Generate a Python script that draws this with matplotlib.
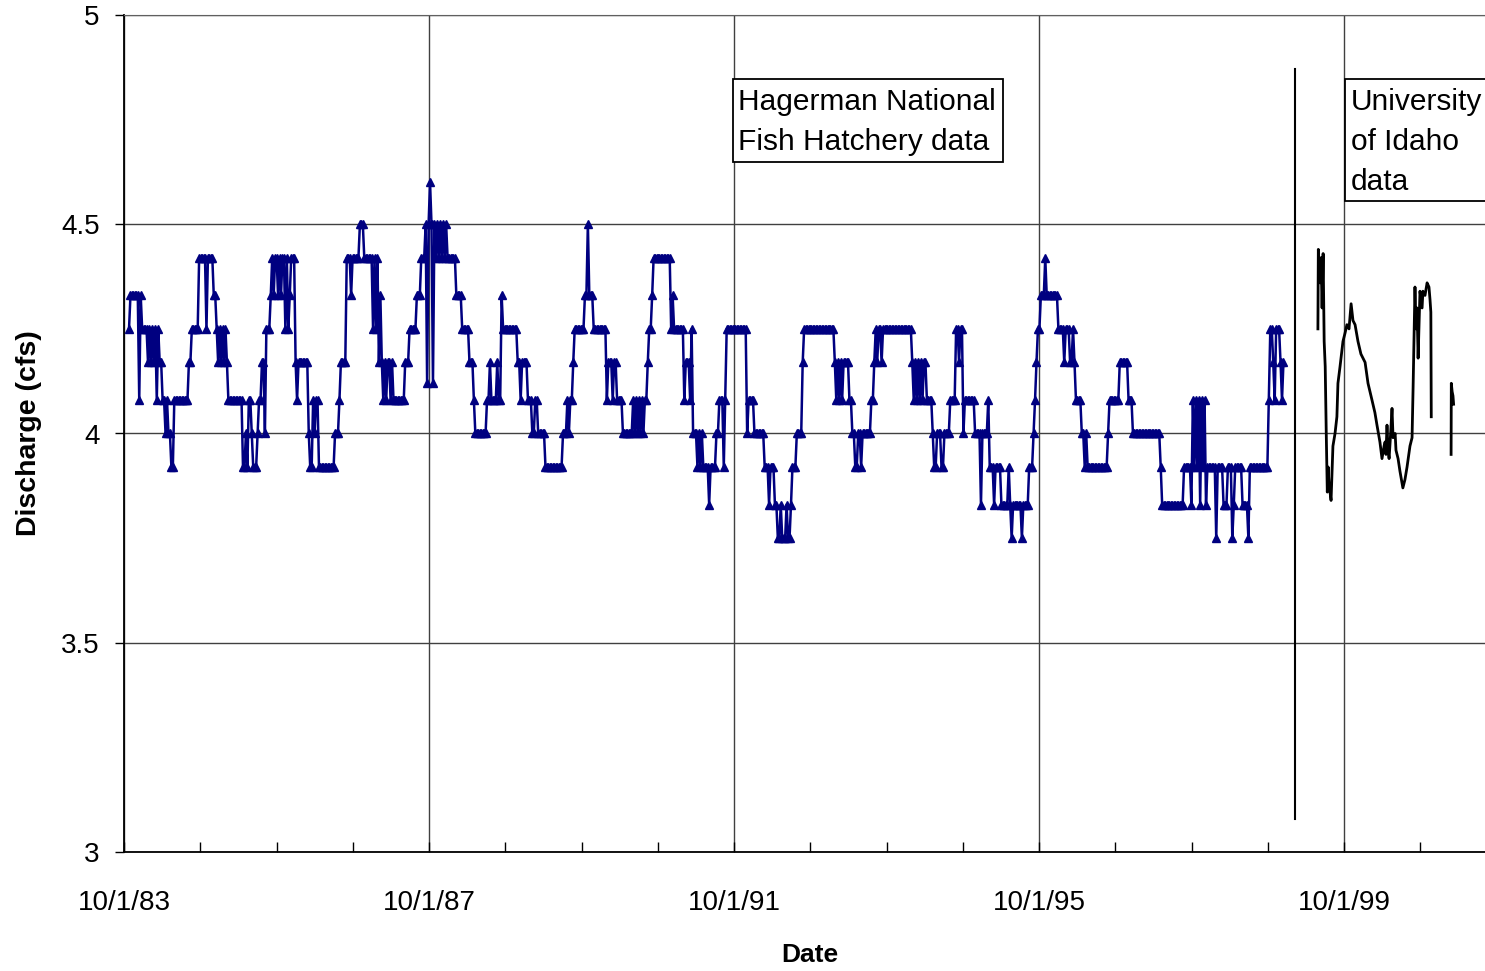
import numpy as np
import pandas as pd
import matplotlib
matplotlib.use('Agg')
import matplotlib.pyplot as plt
import matplotlib.dates as mdates
from matplotlib.patches import Rectangle

plt.rcParams['font.family'] = ['Liberation Sans', 'DejaVu Sans']

# Hagerman National Fish Hatchery, weekly readings stored as (cfs, weeks held)
hnfh_start = '1983-10-25'
hnfh_runs = [
    (4.25, 1), (4.33, 6), (4.08, 1), (4.33, 1), (4.25, 4),
    (4.17, 1), (4.25, 1), (4.17, 1), (4.25, 1), (4.17, 1), (4.25, 1), (4.08, 1), (4.25, 1), (4.17, 2),
    (4.08, 2), (4.0, 1), (4.08, 1), (4.0, 2), (3.92, 2),
    (4.08, 10), (4.17, 2), (4.25, 5),
    (4.42, 5), (4.25, 1), (4.42, 4), (4.33, 2),
    (4.25, 1), (4.17, 1), (4.25, 1), (4.17, 1), (4.25, 1), (4.17, 1), (4.25, 1), (4.17, 1),
    (4.08, 10),
    (3.92, 2), (4.0, 1), (3.92, 1), (4.08, 2), (4.0, 1), (3.92, 3), (4.0, 1),
    (4.08, 2), (4.17, 2), (4.0, 1), (4.25, 3),
    (4.33, 1), (4.42, 1), (4.33, 1), (4.42, 2), (4.33, 1), (4.42, 1), (4.33, 1), (4.42, 2),
    (4.25, 1), (4.42, 1), (4.25, 1), (4.33, 1), (4.42, 3),
    (4.17, 1), (4.08, 1), (4.17, 7), (4.0, 1), (3.92, 2),
    (4.08, 1), (4.0, 1), (4.08, 2),
    (3.92, 11), (4.0, 3), (4.08, 1), (4.17, 4),
    (4.42, 3), (4.33, 1), (4.42, 5), (4.5, 3),
    (4.42, 6), (4.25, 1), (4.42, 1), (4.25, 1), (4.42, 1),
    (4.17, 1), (4.33, 1), (4.17, 1), (4.08, 1),
    (4.17, 1), (4.08, 1), (4.17, 2), (4.08, 1), (4.17, 1), (4.08, 8),
    (4.17, 3), (4.25, 5), (4.33, 3), (4.42, 3),
    (4.5, 1), (4.12, 1), (4.5, 1), (4.6, 1), (4.5, 1), (4.12, 1), (4.5, 1), (4.42, 1),
    (4.5, 1), (4.42, 1), (4.5, 1), (4.42, 1), (4.5, 1), (4.42, 1), (4.5, 1),
    (4.42, 6), (4.33, 4), (4.25, 5), (4.17, 3), (4.08, 1), (4.0, 8),
    (4.08, 2), (4.17, 1), (4.08, 4), (4.17, 1), (4.08, 2), (4.33, 1),
    (4.25, 10), (4.17, 2), (4.08, 1), (4.17, 4),
    (4.08, 3), (4.0, 2), (4.08, 2), (4.0, 5), (3.92, 12),
    (4.0, 3), (4.08, 1), (4.0, 1), (4.08, 2), (4.17, 1),
    (4.25, 7), (4.33, 2), (4.5, 1), (4.33, 3), (4.25, 9),
    (4.08, 1), (4.17, 3), (4.08, 1), (4.17, 2), (4.08, 4), (4.0, 7),
    (4.08, 1), (4.0, 1), (4.08, 1), (4.0, 1), (4.08, 1), (4.0, 1), (4.08, 1), (4.0, 1), (4.08, 2),
    (4.17, 1), (4.25, 2), (4.33, 1), (4.42, 12),
    (4.25, 1), (4.33, 1), (4.25, 7),
    (4.08, 1), (4.17, 3), (4.08, 1), (4.25, 1), (4.0, 3),
    (3.92, 1), (4.0, 1), (3.92, 1), (4.0, 1), (3.92, 4), (3.83, 1), (3.92, 4), (4.0, 2),
    (4.08, 3), (3.92, 1), (4.08, 1),
    (4.25, 14), (4.0, 1), (4.08, 4), (4.0, 7),
    (3.92, 3), (3.83, 1), (3.92, 3),
    (3.83, 2), (3.75, 2), (3.83, 1), (3.75, 3), (3.83, 1), (3.75, 2), (3.83, 1),
    (3.92, 3), (4.0, 4), (4.17, 1), (4.25, 21),
    (4.17, 1), (4.08, 1), (4.17, 1), (4.08, 1), (4.17, 1), (4.08, 1), (4.17, 4), (4.08, 2),
    (4.0, 2), (3.92, 2), (4.0, 2), (3.92, 1), (4.0, 6), (4.08, 2),
    (4.17, 1), (4.25, 1), (4.17, 1), (4.25, 2), (4.17, 1), (4.25, 20),
    (4.17, 1), (4.08, 1), (4.17, 1), (4.08, 1), (4.17, 1), (4.08, 1), (4.17, 1), (4.08, 1),
    (4.17, 2), (4.08, 4),
    (4.0, 1), (3.92, 2), (4.0, 3), (3.92, 2), (4.0, 4),
    (4.08, 4), (4.25, 2), (4.17, 1), (4.25, 2), (4.0, 1), (4.08, 7),
    (4.0, 4), (3.83, 1), (4.0, 4), (4.08, 1),
    (3.92, 3), (3.83, 1), (3.92, 4),
    (3.83, 5), (3.92, 1), (3.83, 1), (3.75, 1), (3.83, 6), (3.75, 1), (3.83, 4),
    (3.92, 3), (4.0, 1), (4.08, 1), (4.17, 1), (4.25, 2),
    (4.33, 3), (4.42, 1), (4.33, 8),
    (4.25, 4), (4.17, 1), (4.25, 3), (4.17, 2), (4.25, 1), (4.17, 1),
    (4.08, 4), (4.0, 2), (3.92, 1), (4.0, 1), (3.92, 14), (4.0, 1),
    (4.08, 7), (4.17, 6), (4.08, 3), (4.0, 19), (3.92, 1), (3.83, 15),
    (3.92, 5), (3.83, 1), (4.08, 1), (3.92, 1), (4.08, 1), (3.92, 1), (4.08, 1), (3.83, 1),
    (4.08, 1), (3.92, 1), (4.08, 1), (3.83, 1),
    (3.92, 6), (3.75, 1), (3.92, 4), (3.83, 3), (3.92, 3), (3.75, 1), (3.83, 1), (3.92, 5),
    (3.83, 4), (3.75, 1), (3.92, 13),
    (4.08, 1), (4.25, 2), (4.17, 1), (4.08, 1), (4.25, 3), (4.17, 1), (4.08, 1), (4.17, 1),
]

# University of Idaho record
ui_dates = ['1999-05-29', '1999-05-31', '1999-06-08', '1999-06-13', '1999-06-18', '1999-06-23',
            '1999-06-28', '1999-07-03', '1999-07-08', '1999-07-13', '1999-07-17', '1999-07-21',
            '1999-07-31', '1999-08-09', '1999-08-19', '1999-08-28', '1999-09-02', '1999-09-12',
            '1999-09-26', '1999-10-06', '1999-10-15', '1999-10-25', '1999-11-04', '1999-11-13',
            '1999-11-23', '1999-12-07', '1999-12-21', '2000-01-10', '2000-01-24', '2000-02-12',
            '2000-02-26', '2000-03-07', '2000-03-21', '2000-03-31', '2000-04-10', '2000-04-15',
            '2000-04-19', '2000-04-24', '2000-04-29', '2000-05-04', '2000-05-09', '2000-05-18',
            '2000-05-23', '2000-06-02', '2000-06-06', '2000-06-16', '2000-06-25', '2000-07-09',
            '2000-07-19', '2000-07-29', '2000-08-12', '2000-08-22', '2000-08-27', '2000-09-05',
            '2000-09-10', '2000-09-15', '2000-09-20', '2000-09-25', '2000-09-29', '2000-10-09',
            '2000-10-13', '2000-10-23', '2000-11-02', '2000-11-11', '2000-11-16', '2000-11-20',
            '2000-11-22', '2001-01-10', '2001-02-25', '2001-02-26', '2001-03-02', '2001-03-06',
            '2001-03-09']
ui_cfs = [4.25, 4.44, 4.36, 4.42, 4.30, 4.43, 4.22, 4.16, 4.00, 3.86, 3.92, 3.88,
          3.84, 3.97, 4.00, 4.04, 4.12, 4.16, 4.22, 4.24, 4.26, 4.25, 4.31, 4.27,
          4.26, 4.22, 4.19, 4.17, 4.12, 4.08, 4.05, 4.02, 3.98, 3.94, 3.97, 3.98,
          3.95, 4.02, 3.96, 3.94, 3.98, 4.06, 3.99, 4.00, 3.96, 3.94, 3.91, 3.87,
          3.89, 3.92, 3.97, 3.99, 4.11, 4.35, 4.25, 4.30, 4.18, 4.27, 4.34, 4.30,
          4.34, 4.33, 4.36, 4.35, 4.32, 4.29, 4.04, np.nan, 3.95, 4.12, 4.10, 4.09,
          4.07]

# line separating the two data sources
divider_date = '1999-02-08'
divider_cfs = (3.08, 4.87)

major_dates = ['1983-10-01', '1987-10-01', '1991-10-01', '1995-10-01', '1999-10-01']
major_labels = ['10/1/83', '10/1/87', '10/1/91', '10/1/95', '10/1/99']
minor_years = list(range(1984, 2002))
y_ticks = [3, 3.5, 4, 4.5, 5]
y_labels = ['3', '3.5', '4', '4.5', '5']

hnfh_cfs = np.repeat([r[0] for r in hnfh_runs], [r[1] for r in hnfh_runs])
hnfh_dates = pd.date_range(hnfh_start, periods=len(hnfh_cfs), freq='7D')

W, H = 1485, 971
fig = plt.figure(figsize=(W / 100, H / 100), dpi=100)
ax = fig.add_axes([124 / W, 1 - 852 / H, 1361 / W, 837 / H])

ax.plot(hnfh_dates, hnfh_cfs, color='#000080', lw=1.8, marker='^', ms=5.5,
        mec='#000080', mfc='#000080', zorder=3)
ax.plot(pd.to_datetime(ui_dates), ui_cfs, color='black', lw=2.0, zorder=3)
d = pd.Timestamp(divider_date)
ax.plot([d, d], divider_cfs, color='black', lw=1.5, zorder=3)

ax.set_xticks(pd.to_datetime(major_dates))
ax.set_xticklabels(major_labels)
ax.set_xticks([pd.Timestamp(f'{y}-10-01') for y in minor_years], minor=True)
ax.set_yticks(y_ticks)
ax.set_yticklabels(y_labels)

# 4 years span 305 px of the 1361 px wide plot area
x0 = mdates.date2num(pd.Timestamp(major_dates[0]))
x4 = mdates.date2num(pd.Timestamp(major_dates[1]))
ax.set_xlim(x0, x0 + (x4 - x0) * 1361 / 305)
ax.set_ylim(3, 5)

ax.tick_params(axis='x', which='both', direction='in', length=7, width=1,
               labelsize=20, pad=27)
ax.tick_params(axis='y', direction='out', length=6.5, width=1, labelsize=20, pad=11)

ax.grid(True, which='major', color='#404040', lw=1)
ax.spines['right'].set_visible(False)
ax.spines['top'].set_color('#606060')
ax.spines['left'].set_linewidth(1.3)
ax.spines['bottom'].set_linewidth(1.3)

ax.set_xlabel('Date', fontsize=19, fontweight='bold')
ax.xaxis.set_label_coords(0.504, -0.123)
ax.xaxis.label.set_va('center')
ax.set_ylabel('Discharge (cfs)', fontsize=20.5, fontweight='bold')
ax.yaxis.set_label_coords(-0.070, 0.5)
ax.yaxis.label.set_va('center')

# annotation boxes (pixel rectangles), the second runs off the right edge
for (bx0, by0, bx1, by1) in [(733, 79, 1003, 162), (1345, 79, 1500, 201)]:
    fig.patches.append(Rectangle((bx0 / W, 1 - by1 / H), (bx1 - bx0) / W, (by1 - by0) / H,
                                 transform=fig.transFigure, fc='white', ec='black',
                                 lw=1.3, zorder=4))
fig.text(738 / W, 1 - 88 / H, 'Hagerman National\nFish Hatchery data',
         fontsize=21.5, ha='left', va='top', linespacing=1.54, zorder=5)
fig.text(1351 / W, 1 - 88 / H, 'University\nof Idaho\ndata',
         fontsize=21.5, ha='left', va='top', linespacing=1.54, zorder=5)

fig.savefig('out.png', dpi=100)
